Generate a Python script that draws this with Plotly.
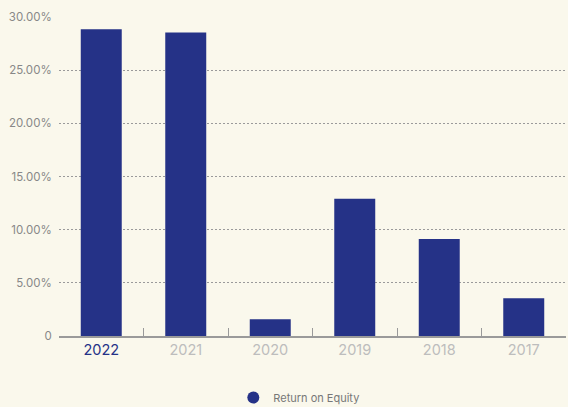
import plotly.graph_objects as go

# Return on equity by fiscal year, in percent
years = ["2022", "2021", "2020", "2019", "2018", "2017"]
roe_pct = [28.85, 28.55, 1.57, 12.9, 9.12, 3.56]

y_tick_vals = [0, 5, 10, 15, 20, 25, 30]
y_tick_text = ["0", "5.00%", "10.00%", "15.00%", "20.00%", "25.00%", "30.00%"]

series_name = "Return on Equity"
highlight_year = "2022"

NAVY = "#253287"
BG = "#faf8ec"
FONT = "Inter, Liberation Sans, sans-serif"

x_tick_text = [
    f"<span style='color:{NAVY}'>{y}</span>" if y == highlight_year
    else f"<span style='color:#bdbdbd'>{y}</span>"
    for y in years
]

fig = go.Figure()
fig.add_trace(go.Bar(
    x=years, y=roe_pct, marker=dict(color=NAVY, line=dict(width=0)),
    showlegend=False, hoverinfo="skip",
))
# legend entry drawn with a round marker
fig.add_trace(go.Scatter(
    x=[None], y=[None], mode="markers", name=series_name,
    marker=dict(color=NAVY, size=12, symbol="circle"),
))

fig.update_layout(
    width=568, height=407,
    margin=dict(l=59, r=2, t=17, b=71, autoexpand=False),
    paper_bgcolor=BG, plot_bgcolor=BG,
    bargap=0.515,
    font=dict(family=FONT),
    showlegend=True,
    legend=dict(
        orientation="h", x=0.474, xanchor="center", y=-0.193, yanchor="middle",
        font=dict(size=11, color="#777777"), itemsizing="constant",
    ),
    xaxis=dict(
        type="category", tickvals=years, ticktext=x_tick_text,
        tickson="boundaries", ticks="inside", ticklen=8, tickwidth=1,
        tickcolor="#9a9a9a", showline=True, linecolor="#9a9a9a", linewidth=1.5,
        showgrid=False, tickfont=dict(size=14.5), fixedrange=True,
        automargin=False,
    ),
    yaxis=dict(
        range=[0, 30], tickvals=y_tick_vals, ticktext=y_tick_text,
        showgrid=True, gridcolor="#9a9a9a", griddash="2px,2px", gridwidth=1.2,
        zeroline=False, showline=False, ticks="outside", ticklen=4,
        tickcolor="rgba(0,0,0,0)", tickfont=dict(size=11.5, color="#888888"),
        fixedrange=True, automargin=False,
    ),
)

fig.write_html("out.html")
